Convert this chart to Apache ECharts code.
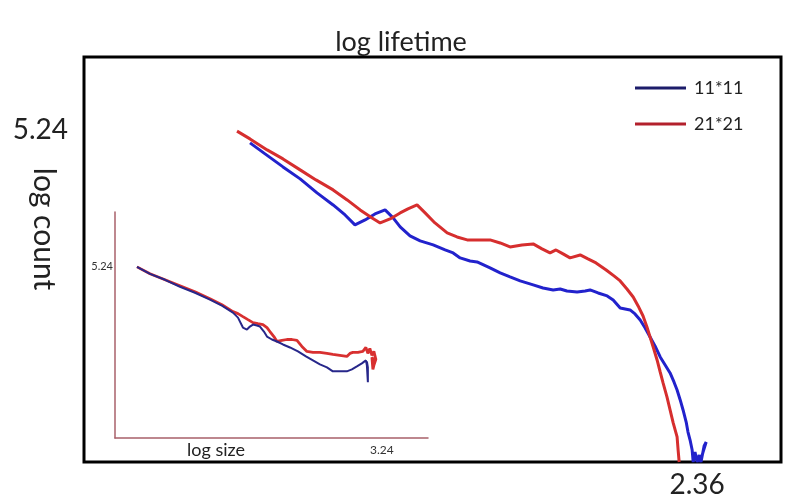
<!DOCTYPE html>
<html><head><meta charset="utf-8">
<script src="https://cdn.jsdelivr.net/npm/echarts@6/dist/echarts.min.js"></script>
<style>html,body{margin:0;padding:0;background:#fff}#c{width:789px;height:501px}</style>
</head><body><div id="c"></div>
<script>
// ---- main chart: log lifetime vs log count ----
const mainBlueX = [0.639,0.697,0.766,0.832,0.897,0.959,1.005,1.043,1.082,1.120,1.159,1.190,1.217,1.255,1.294,1.344,1.390,1.421,1.448,1.486,1.513,1.563,1.602,1.640,1.679,1.729,1.767,1.806,1.833,1.859,1.898,1.929,1.948,1.979,2.014,2.037,2.064,2.083,2.102,2.121,2.141,2.160,2.179,2.198,2.218,2.237,2.256,2.271,2.283,2.295,2.306,2.318,2.325,2.333,2.341,2.345,2.352,2.360,2.368,2.375,2.387,2.395,2.383,2.372];
const mainBlueY = [5.035,4.861,4.656,4.467,4.246,4.056,3.898,3.741,3.819,3.914,3.977,3.851,3.709,3.567,3.488,3.425,3.346,3.299,3.220,3.172,3.157,3.062,2.983,2.920,2.857,2.794,2.746,2.715,2.730,2.699,2.683,2.699,2.715,2.667,2.620,2.557,2.431,2.415,2.399,2.336,2.241,2.115,1.973,1.831,1.657,1.531,1.405,1.263,1.136,0.979,0.821,0.631,0.473,0.347,0.189,0,0.158,0,0.110,0,0.253,0.316,0.158,0];
const mainRedX = [0.589,0.639,0.705,0.766,0.832,0.893,0.959,1.013,1.063,1.109,1.140,1.178,1.217,1.247,1.282,1.313,1.351,1.398,1.436,1.475,1.517,1.563,1.602,1.640,1.686,1.729,1.763,1.794,1.817,1.844,1.871,1.910,1.940,1.971,2.010,2.040,2.064,2.090,2.114,2.133,2.152,2.167,2.179,2.191,2.206,2.218,2.229,2.244,2.256,2.268,2.283,2.287,2.291];
const mainRedY = [5.22,5.098,4.924,4.782,4.609,4.451,4.293,4.135,3.977,3.851,3.772,3.835,3.930,3.993,4.056,3.930,3.772,3.614,3.551,3.504,3.504,3.504,3.456,3.393,3.425,3.441,3.362,3.299,3.346,3.283,3.220,3.267,3.204,3.141,3.030,2.936,2.857,2.730,2.604,2.462,2.304,2.131,1.973,1.815,1.610,1.420,1.247,1.026,0.821,0.616,0.395,0.189,0];
// ---- inset: log size vs log count ----
const insetBlueX = [0.267,0.425,0.607,0.789,0.971,1.153,1.298,1.432,1.493,1.553,1.602,1.638,1.675,1.723,1.760,1.808,1.845,1.905,1.966,2.039,2.124,2.221,2.318,2.403,2.488,2.573,2.645,2.730,2.815,2.876,2.937,2.997,3.046,3.058,3.070,3.070,3.058];
const insetBlueY = [5.24,5.027,4.844,4.631,4.448,4.235,4.052,3.839,3.686,3.382,3.321,3.412,3.473,3.443,3.412,3.260,3.107,3.016,2.955,2.864,2.772,2.650,2.498,2.376,2.254,2.163,2.041,2.041,2.041,2.102,2.193,2.285,2.376,2.224,1.706,2.163,2.346];
const insetRedX = [0.267,0.425,0.607,0.789,0.971,1.153,1.298,1.432,1.493,1.553,1.614,1.675,1.735,1.796,1.845,1.881,1.929,1.966,2.027,2.087,2.148,2.209,2.269,2.330,2.403,2.488,2.573,2.645,2.730,2.815,2.852,2.888,2.949,3.009,3.046,3.070,3.094,3.119,3.143,3.167,3.143,3.131,3.119,3.155];
const insetRedY = [5.24,5.027,4.844,4.661,4.478,4.265,4.082,3.869,3.808,3.717,3.625,3.534,3.503,3.473,3.382,3.260,3.107,2.955,2.986,3.016,3.016,2.986,2.803,2.650,2.620,2.620,2.590,2.559,2.529,2.498,2.590,2.620,2.620,2.650,2.772,2.590,2.742,2.529,2.650,2.407,2.224,2.102,2.468,2.346];
const seriesNames = ['11*11','21*21'];
const mainYTick = [5.24];
const mainXTick = [2.36];
const insetYTick = [5.24];
const insetXTick = [3.24];

const zip = (xs, ys) => xs.map((x, i) => [x, ys[i]]);
const FONT = 'Lato, "Open Sans", sans-serif';
const chart = echarts.init(document.getElementById('c'), null, {renderer: 'canvas'});
chart.setOption({
  animation: false,
  backgroundColor: '#fff',
  title: {text: 'log lifetime', left: 396, textAlign: 'center', top: 24,
    textStyle: {fontFamily: FONT, fontSize: 27, fontWeight: 'normal', color: '#222'}},
  legend: {
    orient: 'vertical', left: 630, top: 74, itemWidth: 51, itemHeight: 3, itemGap: 18, icon: 'rect',
    textStyle: {fontFamily: FONT, fontSize: 18, color: '#222', lineHeight: 18, padding: [0, 0, 0, 3]},
    data: [{name: seriesNames[0], itemStyle: {color: '#1c1c6a'}}, {name: seriesNames[1], itemStyle: {color: '#b3202c'}}]
  },
  grid: [
    {left: 84, top: 57, width: 697, height: 405, show: true, borderColor: '#000', borderWidth: 3, backgroundColor: 'transparent'},
    {left: 115, top: 212, width: 313, height: 226, show: false}
  ],
  xAxis: [
    {type: 'value', gridIndex: 0, min: 0, max: 2.683, splitLine: {show: false}, axisLine: {show: false}, axisTick: {show: false},
      axisLabel: {customValues: mainXTick, formatter: v => v.toFixed(2), fontFamily: FONT, fontSize: 28, color: '#222', margin: 9}},
    {type: 'value', gridIndex: 1, min: 0, max: 3.80, splitLine: {show: false},
      axisLine: {show: true, lineStyle: {color: '#a8606a', width: 1.5}}, axisTick: {show: false},
      axisLabel: {customValues: insetXTick, formatter: v => v.toFixed(2), fontFamily: FONT, fontSize: 12, color: '#333', margin: 6}}
  ],
  yAxis: [
    {type: 'value', gridIndex: 0, min: 0, max: 6.39, splitLine: {show: false}, axisLine: {show: false}, axisTick: {show: false},
      axisLabel: {customValues: mainYTick, formatter: v => v.toFixed(2), fontFamily: FONT, fontSize: 28, color: '#222', margin: 16}},
    {type: 'value', gridIndex: 1, min: 0, max: 6.92, splitLine: {show: false},
      axisLine: {show: true, lineStyle: {color: '#a8606a', width: 1.5}}, axisTick: {show: false},
      axisLabel: {customValues: insetYTick, formatter: v => v.toFixed(2), fontFamily: FONT, fontSize: 11, color: '#333', margin: 2}}
  ],
  graphic: [
    {type: 'text', x: 44, y: 229, rotation: -Math.PI / 2,
      style: {text: 'log count', font: '30px ' + FONT, fill: '#222', align: 'center', verticalAlign: 'middle'}},
    {type: 'text', x: 216, y: 450,
      style: {text: 'log size', font: '18px ' + FONT, fill: '#222', align: 'center', verticalAlign: 'middle'}}
  ],
  series: [
    {name: seriesNames[0], type: 'line', xAxisIndex: 0, yAxisIndex: 0, data: zip(mainBlueX, mainBlueY), showSymbol: false,
      lineStyle: {color: '#2222cc', width: 3}, itemStyle: {color: '#2222cc'}},
    {name: seriesNames[1], type: 'line', xAxisIndex: 0, yAxisIndex: 0, data: zip(mainRedX, mainRedY), showSymbol: false,
      lineStyle: {color: '#d62e2e', width: 3}, itemStyle: {color: '#d62e2e'}},
    {name: seriesNames[1], type: 'line', xAxisIndex: 1, yAxisIndex: 1, data: zip(insetRedX, insetRedY), showSymbol: false,
      lineStyle: {color: '#d83030', width: 2.8}, itemStyle: {color: '#d83030'}},
    {name: seriesNames[0], type: 'line', xAxisIndex: 1, yAxisIndex: 1, data: zip(insetBlueX, insetBlueY), showSymbol: false,
      lineStyle: {color: '#27278a', width: 2}, itemStyle: {color: '#27278a'}}
  ]
});
</script></body></html>
